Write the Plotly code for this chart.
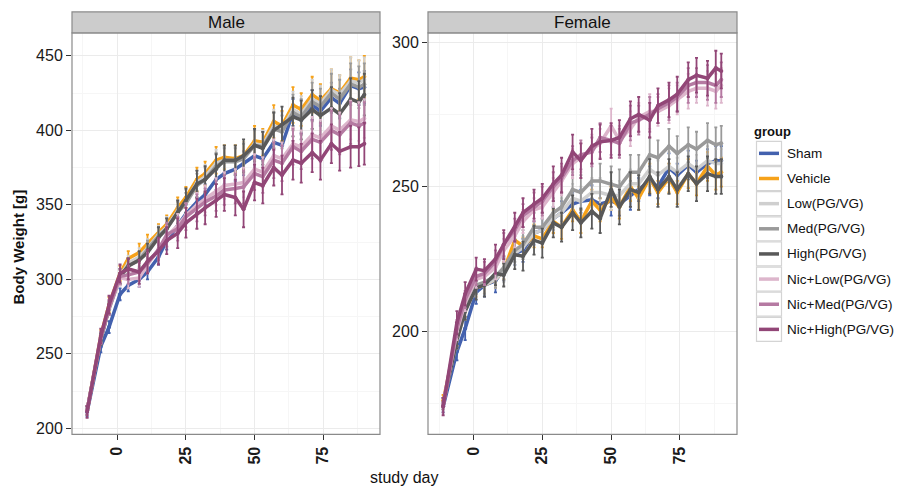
import plotly.graph_objects as go

# Study days at which body weight was recorded
days = [-11, -6, -3, 1, 4, 8, 11, 15, 18, 22, 25, 29, 32, 36, 39, 43, 46,
        50, 53, 57, 60, 64, 67, 71, 74, 78, 81, 85, 88, 90]

groups = ["Sham", "Vehicle", "Low(PG/VG)", "Med(PG/VG)", "High(PG/VG)",
          "Nic+Low(PG/VG)", "Nic+Med(PG/VG)", "Nic+High(PG/VG)"]
colors = ["#4361AE", "#F6A21A", "#CFCFCF", "#9A9A9A", "#595959",
          "#DDB6CC", "#B57AA2", "#924677"]

# ---- Male mean body weight [g]
male_sham = [211, 255, 268, 290, 296, 300, 305, 315, 326, 336, 344, 352, 357, 367, 371,
             374, 378, 383, 381, 392, 390, 412, 407, 417, 413, 422, 418, 430, 428, 429]
male_vehicle = [212, 262, 283, 304, 314, 318, 324, 331, 337, 348, 355, 367, 371, 380, 382,
                381, 383, 393, 392, 406, 403, 417, 414, 424, 420, 428, 425, 435, 434, 436]
male_low = [212, 261, 281, 302, 311, 315, 321, 330, 335, 346, 352, 365, 369, 378, 380,
            380, 382, 391, 390, 403, 401, 414, 411, 421, 418, 427, 424, 433, 432, 434]
male_med = [212, 260, 280, 301, 309, 313, 320, 329, 334, 345, 351, 363, 367, 376, 379,
            379, 381, 390, 389, 401, 399, 412, 409, 419, 416, 425, 421, 431, 429, 431]
male_high = [212, 260, 281, 302, 309, 313, 318, 328, 334, 345, 353, 364, 367, 374, 380,
             380, 383, 390, 388, 400, 404, 409, 407, 414, 410, 415, 411, 421, 419, 424]
male_nic_low = [212, 261, 281, 301, 300, 301, 310, 320, 329, 336, 343, 350, 354, 359, 363,
                364, 365, 374, 372, 383, 381, 391, 389, 397, 395, 403, 400, 407, 406, 408]
male_nic_med = [212, 261, 281, 302, 303, 305, 311, 320, 330, 334, 342, 348, 352, 356, 360,
                361, 362, 371, 369, 380, 378, 389, 386, 394, 392, 400, 397, 405, 403, 405]
male_nic_high = [211, 262, 283, 304, 307, 305, 312, 319, 326, 331, 338, 344, 348, 353, 357,
                 355, 347, 365, 363, 375, 370, 380, 378, 385, 380, 391, 386, 389, 389, 391]

# ---- Male standard error [g]
male_sham_se = [3, 4, 4, 4, 4, 5, 5, 5, 6, 6, 6, 7, 7, 7, 7, 8, 8, 8, 8, 9, 9, 9, 9, 10, 10,
                10, 10, 11, 11, 11]
male_vehicle_se = [3, 4, 5, 5, 5, 6, 6, 6, 6, 7, 7, 8, 8, 9, 8, 9, 9, 10, 9, 11, 10, 12, 11,
                   12, 11, 13, 12, 14, 13, 14]
male_low_se = [3, 4, 5, 5, 5, 6, 6, 6, 7, 7, 8, 8, 8, 9, 9, 9, 10, 10, 10, 11, 11, 12, 12,
               13, 12, 14, 13, 16, 15, 15]
male_med_se = [3, 4, 4, 5, 5, 5, 6, 6, 7, 7, 7, 8, 8, 9, 9, 9, 10, 10, 10, 11, 11, 12, 12,
               13, 12, 13, 13, 14, 14, 14]
male_high_se = [3, 4, 4, 5, 5, 6, 6, 7, 7, 8, 8, 9, 9, 10, 10, 10, 11, 11, 11, 12, 12, 13,
                13, 13, 13, 14, 14, 14, 14, 14]
male_nic_low_se = [3, 4, 5, 5, 6, 6, 6, 7, 7, 8, 8, 8, 9, 9, 9, 10, 10, 10, 10, 11, 11, 11,
                   11, 12, 12, 12, 12, 13, 13, 13]
male_nic_med_se = [3, 4, 5, 5, 6, 6, 7, 7, 8, 8, 9, 9, 9, 10, 10, 10, 11, 11, 11, 12, 12, 12,
                   12, 13, 13, 13, 13, 14, 14, 14]
male_nic_high_se = [4, 5, 6, 6, 7, 8, 8, 9, 9, 10, 10, 10, 11, 11, 11, 12, 12, 12, 12, 12, 13,
                    13, 13, 13, 13, 13, 13, 14, 13, 14]

# ---- Female mean body weight [g]
female_sham = [174, 193, 201, 213.5, 216, 217.5, 221.5, 227, 228, 234, 235, 239, 241, 244, 245,
               245.5, 244, 245, 244, 247, 249, 252, 250, 256.5, 254, 257.5, 255, 258, 259, 259]
female_vehicle = [176, 198, 208, 215, 216, 218, 221, 231.5, 229.5, 233, 232, 238, 236, 242, 238,
                  245, 242, 246, 243, 250, 246, 253, 248, 253, 248, 254.5, 251, 257, 254, 255]
female_low = [175, 197, 207, 215, 216, 218, 221, 227, 229, 234, 235, 239, 241, 246, 245,
              248, 248, 247, 247, 251, 251, 256, 254, 257, 255, 258, 256, 259, 258, 258]
female_med = [175, 198, 208, 216, 217, 219, 222, 228, 230, 236, 236, 241, 243, 249, 248,
              252, 252, 251, 250, 255, 255, 261, 260, 264, 261.5, 264.5, 263, 266, 264.5, 265]
female_high = [175, 197, 207, 215, 216, 220, 219.5, 226.5, 226, 231.5, 230.5, 237.5, 236, 241,
               237.5, 241.5, 239, 249, 243, 249, 248, 253.5, 249, 253.5, 249, 254.5, 251, 254.5,
               253.5, 253.5]
female_nic_low = [175, 200, 210, 218, 219, 222, 228, 233, 238, 242, 243, 248, 252, 258, 260,
                  263, 265, 271, 266, 270, 274, 276, 276, 278, 280, 283, 284, 284, 283, 285]
female_nic_med = [174, 201, 211, 219, 220, 224, 230, 235, 240, 243, 245, 250, 253, 259, 261,
                  262, 267, 266, 265, 272, 273, 275, 277, 279, 281, 285, 286, 286, 285, 287]
female_nic_high = [174, 203, 213, 221.5, 221, 225, 230, 236, 241, 244, 246, 251, 254, 262, 259,
                   264, 265.5, 266, 267, 273.5, 275, 273, 278, 280, 282, 287, 288.5, 287.5, 291,
                   290]

# ---- Female standard error [g]
female_sham_se = [2, 3, 4, 4, 4, 4, 4, 4, 4, 4, 4, 4, 4, 4, 4, 5, 4, 5, 4, 5, 4, 5, 4, 5, 4,
                  5, 4, 5, 5, 5]
female_vehicle_se = [2, 3, 3, 3, 3, 3, 3, 4, 3, 4, 3, 4, 4, 4, 4, 4, 4, 4, 4, 5, 4, 5, 4, 5,
                     4, 5, 4, 5, 5, 5]
female_low_se = [2, 3, 3, 3, 3, 3, 4, 4, 4, 4, 4, 4, 5, 5, 5, 5, 5, 5, 5, 5, 5, 5, 5, 5, 5,
                 5, 5, 5, 5, 5]
female_med_se = [2, 3, 3, 3, 4, 4, 4, 4, 5, 5, 5, 5, 5, 6, 6, 6, 6, 6, 6, 6, 6, 6, 6, 6, 6,
                 6, 6, 6, 6, 6]
female_high_se = [2, 3, 3, 4, 4, 4, 4, 5, 5, 5, 5, 5, 5, 6, 5, 6, 5, 6, 6, 6, 6, 6, 6, 6, 6,
                  6, 6, 6, 6, 6]
female_nic_low_se = [2, 3, 3, 3, 3, 4, 4, 4, 4, 4, 4, 5, 5, 5, 5, 5, 5, 6, 5, 6, 5, 6, 5, 6,
                     5, 6, 5, 6, 6, 6]
female_nic_med_se = [2, 3, 3, 3, 4, 4, 4, 4, 4, 5, 5, 5, 5, 5, 5, 5, 5, 5, 5, 6, 5, 6, 5, 6,
                     5, 6, 5, 6, 6, 6]
female_nic_high_se = [3, 4, 4, 4, 4, 5, 5, 5, 5, 5, 5, 6, 6, 6, 6, 6, 6, 6, 6, 6, 6, 6, 6, 6,
                      6, 6, 6, 6, 6, 6]

male_means = [male_sham, male_vehicle, male_low, male_med, male_high,
              male_nic_low, male_nic_med, male_nic_high]
male_se = [male_sham_se, male_vehicle_se, male_low_se, male_med_se, male_high_se,
           male_nic_low_se, male_nic_med_se, male_nic_high_se]
female_means = [female_sham, female_vehicle, female_low, female_med, female_high,
                female_nic_low, female_nic_med, female_nic_high]
female_se = [female_sham_se, female_vehicle_se, female_low_se, female_med_se,
             female_high_se, female_nic_low_se, female_nic_med_se, female_nic_high_se]

W, H = 902, 492
FONT = "Liberation Sans, Arial, sans-serif"


def px(x):
    return x / W


def py(y):
    return 1 - y / H


fig = go.Figure()

for means, ses, xa, ya in [(male_means, male_se, "x", "y"),
                           (female_means, female_se, "x2", "y2")]:
    for name, col, m, s in zip(groups, colors, means, ses):
        fig.add_trace(go.Scatter(
            x=days, y=m, name=name, xaxis=xa, yaxis=ya,
            mode="lines+markers",
            line=dict(color=col, width=3.5),
            marker=dict(color=col, size=4),
            error_y=dict(type="data", array=s, visible=True,
                         color=col, thickness=1.8, width=1.5),
            showlegend=False, hoverinfo="skip",
        ))

panel_top, panel_bot = 33, 437
male_x0, male_x1 = 72, 380
fem_x0, fem_x1 = 428, 737

grid_major = "#EBEBEB"
grid_minor = "#F6F6F6"

xaxis_common = dict(
    range=[-16.5, 95.7], tickmode="array", tickvals=[0, 25, 50, 75],
    ticktext=["0", "25", "50", "75"], tickangle=-90,
    tickfont=dict(family=FONT, size=16, color="#1a1a1a", weight="bold"),
    ticks="outside", ticklen=5, tickwidth=1.3, tickcolor="#333",
    showgrid=True, gridcolor=grid_major, gridwidth=1.2,
    minor=dict(tickvals=[-12.5, 12.5, 37.5, 62.5, 87.5], showgrid=True,
               gridcolor=grid_minor, gridwidth=1, ticks=""),
    zeroline=False, showline=False, fixedrange=True,
)

fig.update_layout(
    width=W, height=H,
    margin=dict(l=0, r=0, t=0, b=0),
    paper_bgcolor="white", plot_bgcolor="white",
    showlegend=False,
    xaxis=dict(domain=[px(male_x0), px(male_x1)], anchor="y", **xaxis_common),
    xaxis2=dict(domain=[px(fem_x0), px(fem_x1)], anchor="y2", **xaxis_common),
    yaxis=dict(
        domain=[py(panel_bot), py(panel_top)], anchor="x",
        range=[196, 465.5], tickvals=[200, 250, 300, 350, 400, 450],
        tickfont=dict(family=FONT, size=16, color="#1a1a1a"),
        ticks="outside", ticklen=5, tickwidth=1.3, tickcolor="#333",
        showgrid=True, gridcolor=grid_major, gridwidth=1.2,
        minor=dict(tickvals=[225, 275, 325, 375, 425], showgrid=True,
                   gridcolor=grid_minor, gridwidth=1, ticks=""),
        zeroline=False, showline=False, fixedrange=True,
    ),
    yaxis2=dict(
        domain=[py(panel_bot), py(panel_top)], anchor="x2",
        range=[164.4, 303.2], tickvals=[200, 250, 300],
        tickfont=dict(family=FONT, size=16, color="#1a1a1a"),
        ticks="outside", ticklen=5, tickwidth=1.3, tickcolor="#333",
        showgrid=True, gridcolor=grid_major, gridwidth=1.2,
        minor=dict(tickvals=[175, 225, 275], showgrid=True,
                   gridcolor=grid_minor, gridwidth=1, ticks=""),
        zeroline=False, showline=False, fixedrange=True,
    ),
)

shapes = []
annotations = []

# Panel borders and facet strips
for (x0, x1, label) in [(male_x0, male_x1, "Male"), (fem_x0, fem_x1, "Female")]:
    shapes.append(dict(type="rect", xref="paper", yref="paper",
                       x0=px(x0), x1=px(x1), y0=py(panel_bot), y1=py(panel_top),
                       line=dict(color="#8a8a8a", width=1.2), fillcolor="rgba(0,0,0,0)",
                       layer="above"))
    shapes.append(dict(type="rect", xref="paper", yref="paper",
                       x0=px(x0), x1=px(x1), y0=py(panel_top), y1=py(12),
                       line=dict(color="#8a8a8a", width=1.2), fillcolor="#CCCCCC"))
    annotations.append(dict(x=px((x0 + x1) / 2), y=py(22.5), xref="paper", yref="paper",
                            text=label, showarrow=False, xanchor="center", yanchor="middle",
                            font=dict(family=FONT, size=17, color="#111")))

# Axis titles
annotations.append(dict(x=px(404), y=py(480), xref="paper", yref="paper",
                        text="study day", showarrow=False, xanchor="center",
                        yanchor="middle", font=dict(family=FONT, size=16, color="#111")))
annotations.append(dict(x=px(18), y=py(249), xref="paper", yref="paper",
                        text="<b>Body Weight [g]</b>", showarrow=False, textangle=-90,
                        xanchor="center", yanchor="middle",
                        font=dict(family=FONT, size=15, color="#111")))

# Legend drawn as keyed boxes
annotations.append(dict(x=px(752), y=py(132), xref="paper", yref="paper",
                        text="<b>group</b>", showarrow=False, xanchor="left",
                        yanchor="middle", font=dict(family=FONT, size=13, color="#111")))
row_h = 25.3
for i, (name, col) in enumerate(zip(groups, colors)):
    cy = 154.3 + i * row_h
    shapes.append(dict(type="rect", xref="paper", yref="paper",
                       x0=px(756.5), x1=px(781.5), y0=py(cy + row_h / 2 - 0.6),
                       y1=py(cy - row_h / 2 + 0.6),
                       line=dict(color="#D4D4D4", width=1.2), fillcolor="white"))
    shapes.append(dict(type="line", xref="paper", yref="paper",
                       x0=px(759), x1=px(779), y0=py(cy), y1=py(cy),
                       line=dict(color=col, width=3.5)))
    annotations.append(dict(x=px(785), y=py(cy), xref="paper", yref="paper",
                            text=name, showarrow=False, xanchor="left", yanchor="middle",
                            font=dict(family=FONT, size=13.5, color="#111")))

fig.update_layout(shapes=shapes, annotations=annotations)

fig.write_html("out.html")
